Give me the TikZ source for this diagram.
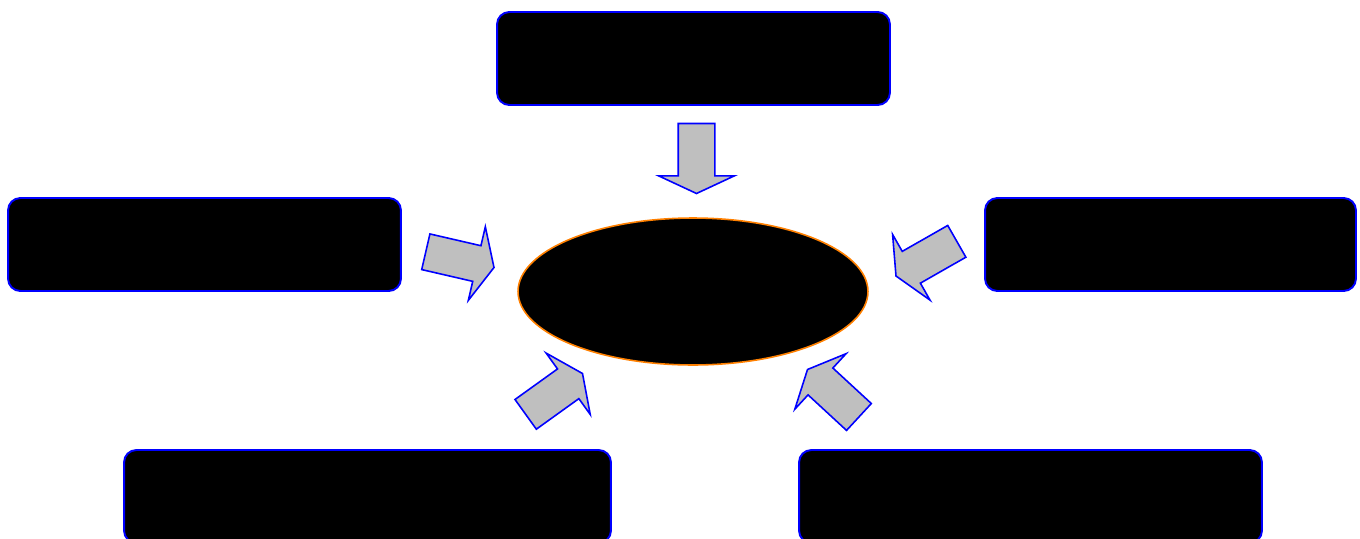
\documentclass[tikz,border=0pt]{standalone}
\usetikzlibrary{shapes.geometric,shapes.arrows}
\tikzset{
  box/.style={draw=blue, fill=black, line width=1.1pt, rounded corners=7pt,
    minimum height=1.86cm, inner sep=0pt},
  hub/.style={ellipse, draw=orange, fill=black, line width=0.9pt,
    minimum width=7cm, minimum height=2.94cm, inner sep=0pt},
  blockarrow/.style={single arrow, draw=blue, fill=lightgray, line width=0.9pt,
    inner sep=0.35cm, outer sep=0pt, minimum height=1.4cm,
    single arrow head extend=0.39cm, single arrow tip angle=130, anchor=tip},
}
\begin{document}
\begin{tikzpicture}[x=0.02cm, y=-0.02cm]
  \useasboundingbox (0,0) rectangle (1360,538);
  % centre
  \node[hub] (centre) at (693,291.5) {};
  % boxes round it
  \node[box, minimum width=7.86cm] (top) at (693.5,58.5) {};
  \node[box, minimum width=7.86cm] (left) at (204.5,244.5) {};
  \node[box, minimum width=7.42cm] (right) at (1170.5,244.5) {};
  \node[box, minimum width=9.74cm] (botleft) at (367.5,496.5) {};
  \node[box, minimum width=9.26cm] (botright) at (1030.5,496.5) {};
  % arrows pointing at the centre
  \node[blockarrow, rotate=-90] (a-top) at (696.5,193.5) {};
  \node[blockarrow, rotate=-13] (a-left) at (494,267.5) {};
  \node[blockarrow, rotate=-150.3] (a-right) at (896,276) {};
  \node[blockarrow, rotate=35.7] (a-botleft) at (582.5,373.5) {};
  \node[blockarrow, rotate=137.3] (a-botright) at (807.5,369.5) {};
\end{tikzpicture}
\end{document}
